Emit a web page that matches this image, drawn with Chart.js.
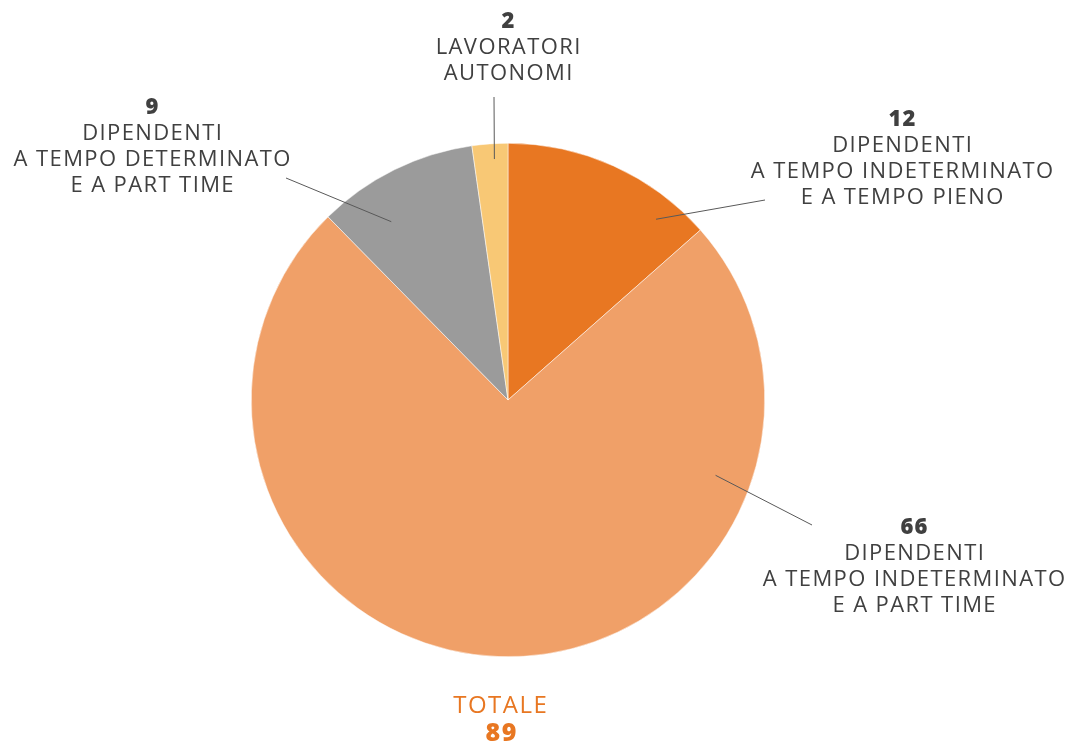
<!DOCTYPE html>
<html>
<head>
<meta charset="utf-8">
<script src="https://cdn.jsdelivr.net/npm/chart.js@4.4.1/dist/chart.umd.min.js"></script>
<style>
  html, body { margin: 0; padding: 0; background: #fff; }
  #wrap { width: 1069px; height: 749px; position: relative; }
</style>
</head>
<body>
<div id="wrap"><canvas id="pieChart"></canvas></div>
<script>
// dati
const categories = [
    ['DIPENDENTI', 'A TEMPO INDETERMINATO', 'E A TEMPO PIENO'],
    ['DIPENDENTI', 'A TEMPO INDETERMINATO', 'E A PART TIME'],
    ['DIPENDENTI', 'A TEMPO DETERMINATO', 'E A PART TIME'],
    ['LAVORATORI', 'AUTONOMI']
];
const values = [12, 66, 9, 2];
const colors = ['#E87722', '#F0A068', '#9B9B9B', '#F8C875'];
const totalLabel = 'TOTALE';

// posizione etichette (centro del testo, relativo al centro della torta) e linee guida
// t = posizione dentro la fetta (0..1), f = frazione del raggio, end = estremo vicino al testo
const labelLayout = [
    { tx: 394, ty: -280, t: 0.81, f: 0.91, ex: 257, ey: -200 },
    { tx: 406, ty: 128,  t: 0.23, f: 0.86, ex: 304, ey: 125 },
    { tx: -356, ty: -292, t: 0.31, f: 0.83, ex: -222, ey: -222 },
    { tx: 0,   ty: -378, t: 0.6,  f: 0.94, ex: -14, ey: -303 }
];

const FONT = '"Open Sans", "DejaVu Sans", sans-serif';
const TEXT_COLOR = '#404040';

function drawSpaced(ctx, text, x, y, spacing) {
    // centra tenendo conto dello spazio finale aggiunto da letterSpacing
    ctx.letterSpacing = spacing + 'px';
    ctx.fillText(text, x + spacing / 2, y);
    ctx.letterSpacing = '0px';
}

const calloutPlugin = {
    id: 'callouts',
    afterDraw(chart) {
        const ctx = chart.ctx;
        const arcs = chart.getDatasetMeta(0).data;
        ctx.save();
        arcs.forEach((arc, i) => {
            const lay = labelLayout[i];
            const cx = arc.x, cy = arc.y;
            const ang = arc.startAngle + (arc.endAngle - arc.startAngle) * lay.t;
            const sx = cx + Math.cos(ang) * arc.outerRadius * lay.f;
            const sy = cy + Math.sin(ang) * arc.outerRadius * lay.f;

            // linea guida
            ctx.strokeStyle = '#595959';
            ctx.lineWidth = 1;
            ctx.beginPath();
            ctx.moveTo(sx, sy);
            ctx.lineTo(cx + lay.ex, cy + lay.ey);
            ctx.stroke();

            // testo
            const x = cx + lay.tx, y = cy + lay.ty;
            ctx.textAlign = 'center';
            ctx.textBaseline = 'middle';
            ctx.fillStyle = TEXT_COLOR;
            ctx.font = '800 22px ' + FONT;
            drawSpaced(ctx, String(values[i]), x, y, 1);
            ctx.font = '400 22px ' + FONT;
            categories[i].forEach((line, k) => {
                drawSpaced(ctx, line, x, y + 26 * (k + 1), 1.4);
            });
        });

        // totale
        const c = arcs[0];
        const total = values.reduce((a, b) => a + b, 0);
        ctx.fillStyle = '#E87722';
        ctx.textAlign = 'center';
        ctx.textBaseline = 'middle';
        ctx.font = '400 24px ' + FONT;
        drawSpaced(ctx, totalLabel, c.x - 8, c.y + 306, 1.5);
        ctx.font = '800 25px ' + FONT;
        drawSpaced(ctx, String(total), c.x - 7, c.y + 334, 1.5);
        ctx.restore();
    }
};

new Chart(document.getElementById('pieChart'), {
    type: 'pie',
    data: {
        labels: categories.map(c => c.join(' ')),
        datasets: [{
            data: values,
            backgroundColor: colors,
            borderColor: '#ffffff',
            borderWidth: 0.5
        }]
    },
    options: {
        responsive: true,
        maintainAspectRatio: false,
        animation: false,
        layout: { padding: { top: 143, bottom: 92, left: 251, right: 304 } },
        plugins: {
            legend: { display: false },
            tooltip: { enabled: false }
        }
    },
    plugins: [calloutPlugin]
});
</script>
</body>
</html>
